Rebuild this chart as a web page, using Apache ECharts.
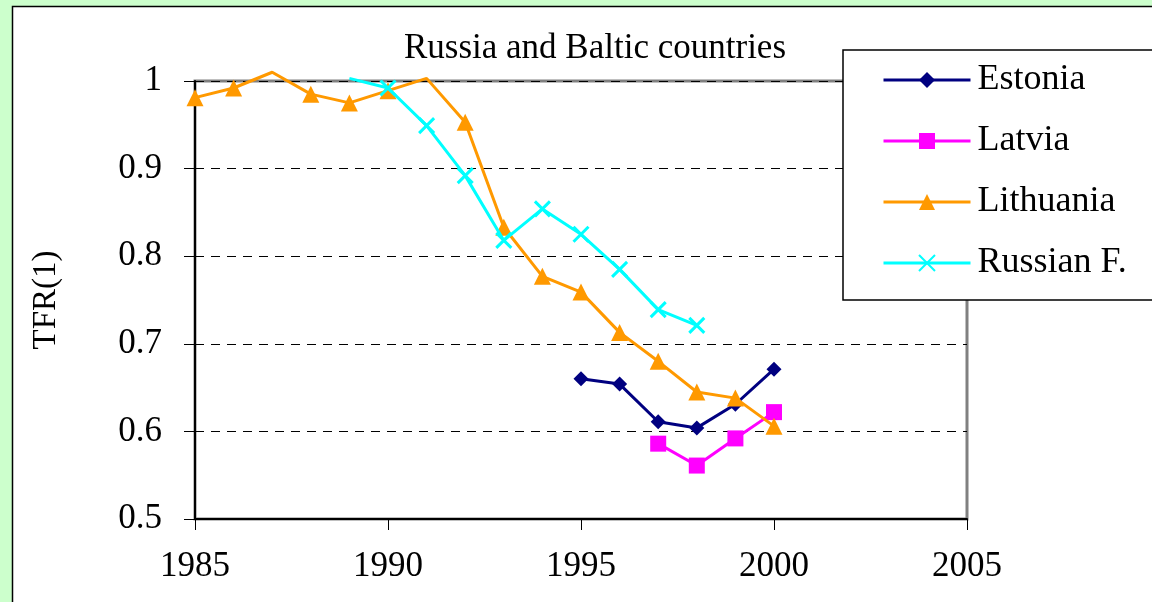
<!DOCTYPE html>
<html>
<head>
<meta charset="utf-8">
<script src="https://cdn.jsdelivr.net/npm/echarts@6/dist/echarts.min.js"></script>
<style>
  html, body { margin: 0; padding: 0; background: #ccffcc; }
  #chart { width: 1152px; height: 602px; }
</style>
</head>
<body>
<div id="chart"></div>
<script>
// ---- data ----
const xTicks = [1985, 1990, 1995, 2000, 2005];
const yTicks = [0.5, 0.6, 0.7, 0.8, 0.9, 1];

const estoniaYears = [1995, 1996, 1997, 1998, 1999, 2000];
const estoniaValues = [0.660, 0.654, 0.611, 0.604, 0.631, 0.671];

const latviaYears = [1997, 1998, 1999, 2000];
const latviaValues = [0.586, 0.561, 0.592, 0.622];

const lithuaniaYears = [1985, 1986, 1987, 1988, 1989, 1990, 1991, 1992, 1993, 1994, 1995, 1996, 1997, 1998, 1999, 2000];
const lithuaniaValues = [0.981, 0.992, 1.010, 0.985, 0.975, 0.989, 1.003, 0.953, 0.833, 0.777, 0.759, 0.713, 0.680, 0.645, 0.638, 0.606];

const russiaYears = [1989, 1990, 1991, 1992, 1993, 1994, 1995, 1996, 1997, 1998];
const russiaValues = [1.003, 0.992, 0.949, 0.892, 0.818, 0.854, 0.825, 0.785, 0.739, 0.721];

const seriesNames = ['Estonia', 'Latvia', 'Lithuania', 'Russian F.'];
const seriesColors = ['#000080', '#ff00ff', '#ff9900', '#00ffff'];
const titleText = 'Russia and Baltic countries';
const yAxisName = 'TFR(1)';

const yMax = yTicks[yTicks.length - 1];

// markers above the axis maximum are hidden (as in the original); lines still drawn
function pairs(xs, ys) {
  return xs.map((x, i) => ys[i] > yMax ? { value: [x, ys[i]], symbol: 'none' } : [x, ys[i]]);
}

const FONT = '"Liberation Serif", "Times New Roman", serif';
const xPath = 'path://M0,0L10,10M10,0L0,10';

const chart = echarts.init(document.getElementById('chart'), null, { renderer: 'canvas' });

const baseSeries = (name, idx, data, symbol, size, extraItem) => ({
  name: name,
  type: 'line',
  data: data,
  symbol: symbol,
  symbolSize: size,
  showSymbol: true,
  clip: false,
  z: 3 + idx,
  lineStyle: { color: seriesColors[idx], width: 3 },
  itemStyle: Object.assign({ color: seriesColors[idx] }, extraItem || {}),
  emphasis: { disabled: true },
  animation: false
});

const option = {
  backgroundColor: 'transparent',
  animation: false,
  graphic: [{
    type: 'rect',
    shape: { x: 12.5, y: 6.5, width: 1200, height: 700 },
    style: { fill: '#ffffff', stroke: '#000000', lineWidth: 1.5 },
    z: -10, silent: true
  }],
  title: {
    text: titleText,
    left: 590, top: 26, textAlign: 'center',
    textStyle: { fontFamily: FONT, fontSize: 35, fontWeight: 'normal', color: '#000' }
  },
  legend: {
    orient: 'vertical',
    left: 843, top: 50,
    padding: [12, 60, 19, 39],
    itemWidth: 87, itemHeight: 20, itemGap: 25,
    backgroundColor: '#ffffff',
    borderColor: '#000000', borderWidth: 1.5, borderRadius: 0,
    lineStyle: { width: 3 },
    textStyle: { fontFamily: FONT, fontSize: 36, color: '#000', padding: [0, 0, 0, 2] },
    data: seriesNames,
    z: 20
  },
  grid: {
    left: 195, right: 185, top: 81, bottom: 83,
    show: true, backgroundColor: '#ffffff', borderColor: '#808080', borderWidth: 3
  },
  xAxis: {
    type: 'value', min: xTicks[0], max: xTicks[xTicks.length - 1], interval: 5,
    axisLine: { show: true, lineStyle: { color: '#000', width: 2 } },
    axisTick: { show: true, length: 11, lineStyle: { color: '#000', width: 1 } },
    axisLabel: { margin: 30, fontFamily: FONT, fontSize: 35, color: '#000', formatter: v => String(v) },
    splitLine: { show: false }
  },
  yAxis: {
    type: 'value', min: yTicks[0], max: yMax, interval: 0.1,
    name: yAxisName, nameLocation: 'middle', nameGap: 132, nameRotate: 90,
    nameTextStyle: { fontFamily: FONT, fontSize: 33, color: '#000' },
    axisLine: { show: true, onZero: false, lineStyle: { color: '#000', width: 2 } },
    axisTick: { show: true, length: 11, lineStyle: { color: '#000', width: 1 } },
    axisLabel: { margin: 33, fontFamily: FONT, fontSize: 35, color: '#000',
      formatter: v => String(Math.round(v * 10) / 10) },
    splitLine: { show: true, lineStyle: { color: '#000', width: 1, type: [9, 7] } }
  },
  series: [
    baseSeries(seriesNames[0], 0, pairs(estoniaYears, estoniaValues), 'diamond', 15),
    baseSeries(seriesNames[1], 1, pairs(latviaYears, latviaValues), 'rect', 16),
    baseSeries(seriesNames[2], 2, pairs(lithuaniaYears, lithuaniaValues), 'triangle', 17),
    baseSeries(seriesNames[3], 3, pairs(russiaYears, russiaValues), xPath, 15,
      { borderColor: seriesColors[3], borderWidth: 3 })
  ]
};

chart.setOption(option);
</script>
</body>
</html>
